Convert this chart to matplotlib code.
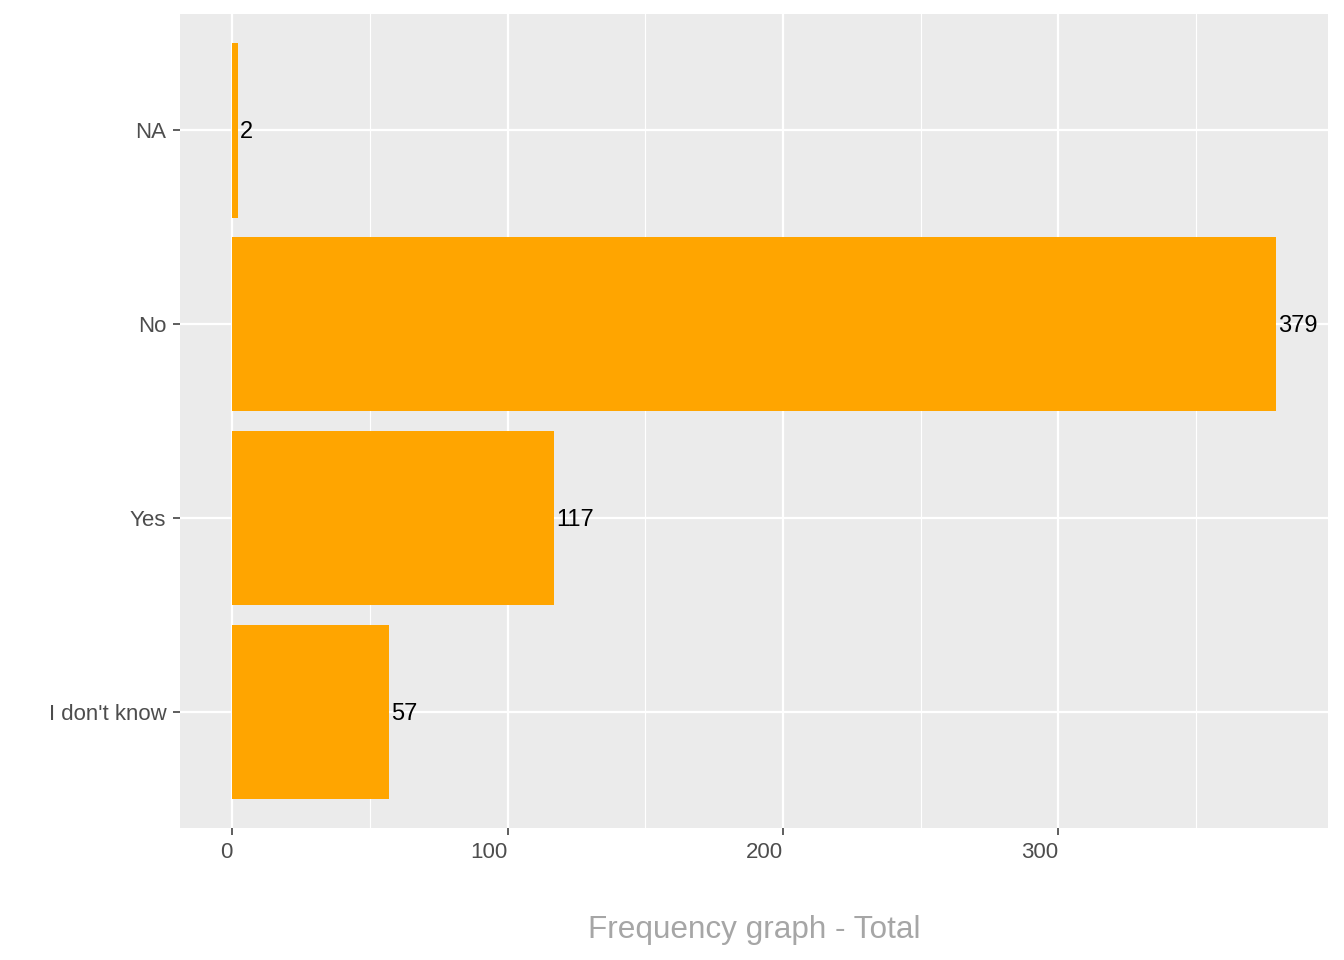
import matplotlib.pyplot as plt

categories = ["I don't know", "Yes", "No", "NA"]
counts = [57, 117, 379, 2]

plt.rcParams['font.family'] = ['Liberation Sans', 'DejaVu Sans']

fig = plt.figure(figsize=(13.44, 9.6), dpi=100)
ax = fig.add_axes([180 / 1344, 1 - 828 / 960, 1148 / 1344, 814 / 960])
ax.set_facecolor('#EBEBEB')

pos = list(range(1, len(categories) + 1))
ax.barh(pos, counts, height=0.9, color='#FFA500', zorder=3)
for p, c in zip(pos, counts):
    ax.annotate(str(c), (c, p), xytext=(1.5, -1.5), textcoords='offset points',
                ha='left', va='center', fontsize=17, color='black', zorder=4)

ax.set_xlim(-0.05 * 379, 379 * 1.05)
ax.set_ylim(0.4, len(categories) + 0.6)
ax.set_xticks([0, 100, 200, 300])
ax.set_xticks([50, 150, 250, 350], minor=True)
ax.set_yticks(pos)
ax.set_yticklabels(categories)
for lab in ax.get_xticklabels():
    lab.set_horizontalalignment('right')

ax.grid(True, which='major', color='white', lw=1.6, zorder=1)
ax.grid(True, which='minor', axis='x', color='white', lw=0.8, zorder=1)
ax.tick_params(which='major', length=5.3, width=1.1, color='#333333',
               labelsize=16, labelcolor='#4D4D4D', pad=4.5)
ax.tick_params(which='minor', length=0)
for s in ax.spines.values():
    s.set_visible(False)

fig.text(754 / 1344, 1 - 930 / 960, "Frequency graph - Total", ha='center',
         va='center', fontsize=22.7, color='#A6A6A6')

fig.savefig('out.png', dpi=100)
